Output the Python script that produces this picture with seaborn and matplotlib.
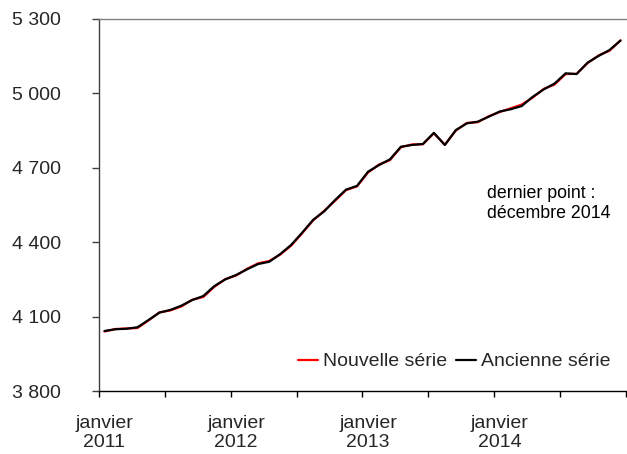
import matplotlib
matplotlib.use("Agg")
import matplotlib.pyplot as plt
import seaborn as sns
import pandas as pd
import numpy as np
from matplotlib.ticker import FixedLocator, NullFormatter, FuncFormatter

# ---- data (monthly, janvier 2011 .. décembre 2014) ----
month_index = list(range(48))
ancienne = [4042, 4049, 4051, 4057, 4086, 4116, 4127, 4144, 4167, 4183, 4223, 4250,
            4268, 4291, 4312, 4321, 4352, 4389, 4438, 4490, 4524, 4570, 4612, 4627,
            4684, 4711, 4734, 4785, 4792, 4796, 4841, 4792, 4852, 4879, 4886, 4906,
            4927, 4936, 4949, 4986, 5016, 5040, 5081, 5078, 5124, 5151, 5175, 5213]
nouvelle = [4040, 4050, 4052, 4054, 4084, 4117, 4125, 4141, 4168, 4179, 4220, 4251,
            4266, 4293, 4315, 4324, 4350, 4386, 4436, 4488, 4526, 4567, 4610, 4625,
            4681, 4713, 4731, 4783, 4794, 4795, 4839, 4793, 4850, 4881, 4884, 4908,
            4925, 4940, 4955, 4983, 5018, 5036, 5078, 5079, 5122, 5153, 5172, 5214]
year_labels = ["janvier\n2011", "janvier\n2012", "janvier\n2013", "janvier\n2014"]
year_positions = [0, 12, 24, 36]
y_ticks = [3800, 4100, 4400, 4700, 5000, 5300]
series_names = ["Nouvelle série", "Ancienne série"]
series_colors = ["#ff0000", "#000000"]

df = pd.DataFrame({
    "mois": month_index * 2,
    "valeur": nouvelle + ancienne,
    "série": [series_names[0]] * 48 + [series_names[1]] * 48,
})

sns.set_style("white")
plt.rcParams["font.family"] = ["Liberation Sans", "DejaVu Sans"]

fig = plt.figure(figsize=(6.27, 4.54), dpi=100)
ax = fig.add_axes([99 / 627, 63 / 454, 527 / 627, 372 / 454])

sns.lineplot(data=df, x="mois", y="valeur", hue="série",
             palette=dict(zip(series_names, series_colors)),
             linewidth=1.6, ax=ax, legend=True)

ax.set_xlim(-0.5, 47.5)
ax.set_ylim(3800, 5300)
ax.set_xlabel("")
ax.set_ylabel("")

# y axis
ax.set_yticks(y_ticks)
ax.yaxis.set_major_formatter(FuncFormatter(lambda v, p: f"{int(v):,}".replace(",", " ")))
ax.tick_params(axis="y", which="major", direction="out", length=5, width=1,
               color="#404040", labelsize=14, pad=22.5, left=True)

# x axis: boundary ticks every 6 months, labels at january
ax.xaxis.set_major_locator(FixedLocator([-0.5 + 6 * k for k in range(9)]))
ax.xaxis.set_major_formatter(NullFormatter())
ax.xaxis.set_minor_locator(FixedLocator(year_positions))
ax.set_xticklabels(year_labels, minor=True)
ax.tick_params(axis="x", which="major", direction="out", length=4.5, width=1,
               color="#000000", bottom=True)
ax.tick_params(axis="x", which="minor", length=0, labelsize=14, pad=17, bottom=True)
for lbl in ax.get_xticklabels(minor=True):
    lbl.set_linespacing(1.2)

for s in ["left", "bottom"]:
    ax.spines[s].set_visible(True)
    ax.spines[s].set_color("#000000")
    ax.spines[s].set_linewidth(1.0)
ax.spines["left"].set_color("#404040")
ax.spines["top"].set_visible(True)
ax.spines["top"].set_color("#808080")
ax.spines["top"].set_linewidth(1.0)
ax.spines["right"].set_visible(False)
ax.grid(False)

ax.text(0.737, 0.555, "dernier point :\ndécembre 2014", transform=ax.transAxes,
        ha="left", va="top", fontsize=12.8, linespacing=1.3, color="#000000")

leg = ax.legend(loc="center right", bbox_to_anchor=(0.97, 0.079), ncol=2,
                frameon=False, fontsize=14, handlelength=1.0, handletextpad=0.25,
                columnspacing=0.5, borderpad=0, borderaxespad=0)
for h in leg.get_lines():
    h.set_linewidth(1.6)

fig.savefig("out.png", dpi=100)
